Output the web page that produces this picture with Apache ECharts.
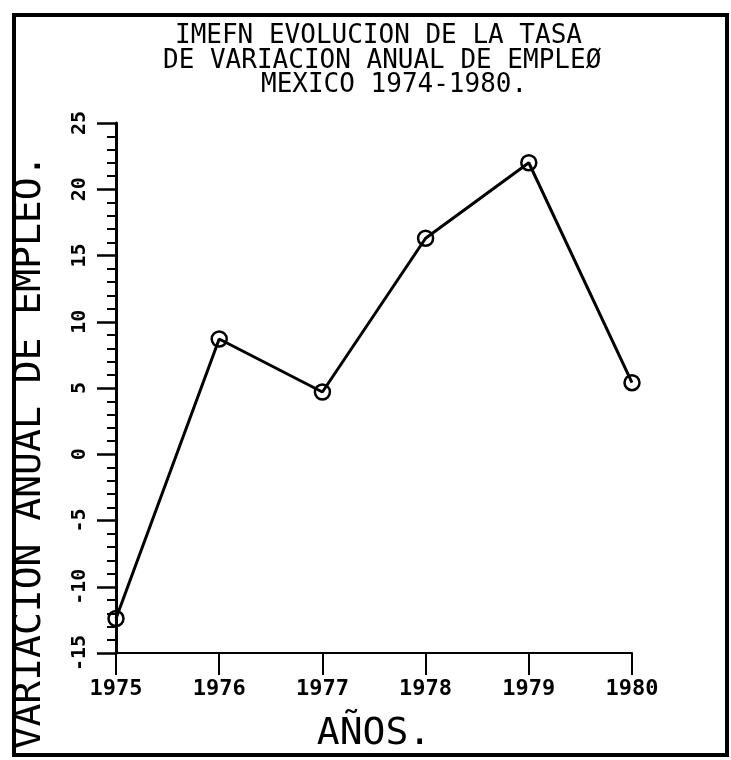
<!DOCTYPE html>
<html>
<head>
<meta charset="utf-8">
<style>
	html, body { margin: 0; padding: 0; background: #fff; }
	#grafica { width: 731px; height: 760px; }
</style>
<script src="https://cdn.jsdelivr.net/npm/echarts@6/dist/echarts.min.js"></script>
</head>
<body>
<div id="grafica"></div>
<script>
// datos
var anios = ['1975', '1976', '1977', '1978', '1979', '1980'];
var empleo = [-12.4, 8.7, 4.7, 16.3, 22.0, 5.4];
var titulos = ['IMEFN EVOLUCION DE LA TASA', 'DE VARIACION ANUAL DE EMPLEØ', 'MEXICO 1974-1980.'];

var fuente = '"DejaVu Sans Mono", "Liberation Mono", monospace';

var chart = echarts.init(document.getElementById('grafica'));
var option = {
	backgroundColor : '#ffffff',
	animation : false,
	title : [{
		text : titulos[0],
		left : 170,
		top : 18,
		textStyle : { fontFamily : fuente, fontSize : 26, fontWeight : 'normal', color : '#000' }
	}, {
		text : titulos[1],
		left : 158,
		top : 43,
		textStyle : { fontFamily : fuente, fontSize : 26, fontWeight : 'normal', color : '#000' }
	}, {
		text : titulos[2],
		left : 256,
		top : 67,
		textStyle : { fontFamily : fuente, fontSize : 26, fontWeight : 'normal', color : '#000' }
	}],
	graphic : [{
		type : 'rect',
		shape : { x : 14, y : 15, width : 713, height : 740 },
		style : { fill : 'none', stroke : '#000', lineWidth : 4 }
	}, {
		type : 'text',
		x : 30,
		y : 452,
		rotation : Math.PI / 2,
		style : {
			text : 'VARIACION ANUAL DE EMPLEO.',
			fontFamily : fuente,
			fontSize : 38,
			fill : '#000',
			align : 'center',
			verticalAlign : 'middle'
		}
	}],
	grid : {
		left : 116,
		right : 99,
		top : 123,
		bottom : 107
	},
	xAxis : {
		type : 'category',
		data : anios,
		boundaryGap : false,
		name : 'AÑOS.',
		nameLocation : 'middle',
		nameGap : 62,
		nameTextStyle : { fontFamily : fuente, fontSize : 38, color : '#000' },
		axisLine : { onZero : false, lineStyle : { color : '#000', width : 2 } },
		axisTick : { show : true, length : 22, lineStyle : { color : '#000', width : 2 } },
		axisLabel : { fontFamily : fuente, fontSize : 22, fontWeight : 'bold', color : '#000', margin : 25 },
		splitLine : { show : false }
	},
	yAxis : {
		type : 'value',
		min : -15,
		max : 25,
		interval : 5,
		axisLine : { show : true, lineStyle : { color : '#000', width : 3 } },
		axisTick : { show : true, length : 19, lineStyle : { color : '#000', width : 2.5 } },
		minorTick : { show : true, splitNumber : 5, length : 9, lineStyle : { color : '#000', width : 2 } },
		axisLabel : { rotate : 90, fontFamily : fuente, fontSize : 20, fontWeight : 'bold', color : '#000', margin : 26 },
		splitLine : { show : false }
	},
	series : [{
		name : 'empleo',
		type : 'line',
		data : empleo,
		symbol : 'circle',
		symbolSize : 15,
		lineStyle : { color : '#000', width : 3 },
		itemStyle : { color : 'rgba(255,255,255,0)', borderColor : '#000', borderWidth : 2.5 }
	}]
};

chart.setOption(option);
</script>
</body>
</html>
